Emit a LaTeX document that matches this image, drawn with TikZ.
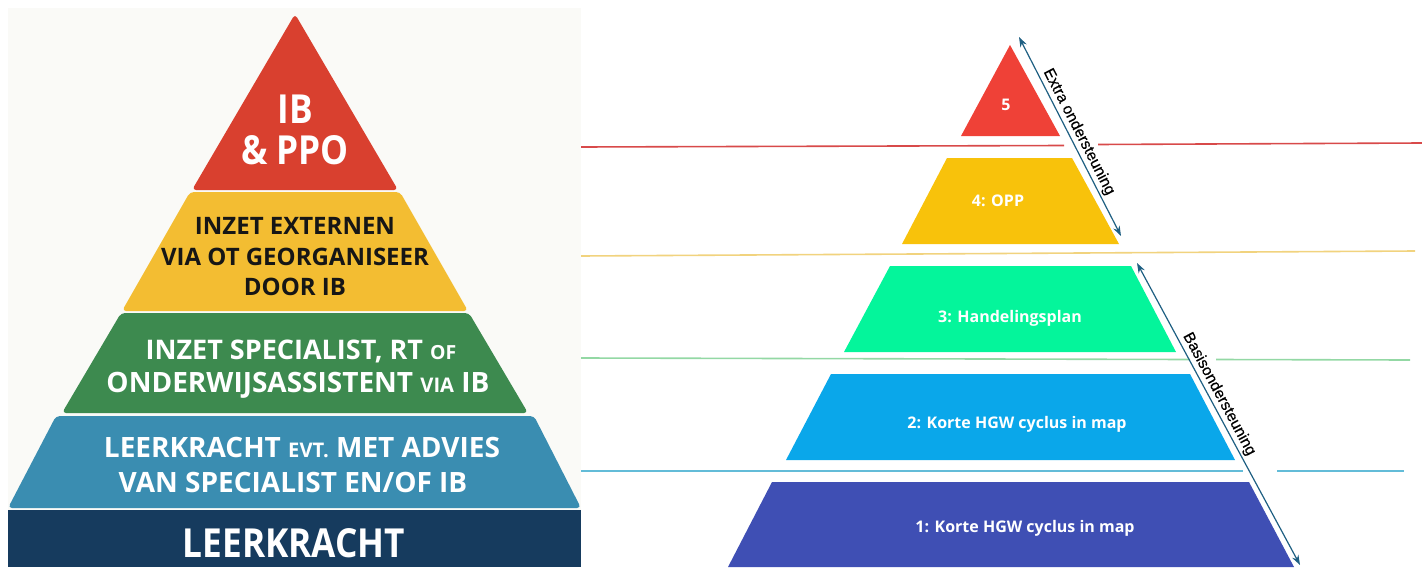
\documentclass[tikz,border=0pt]{standalone}
\usepackage{fontspec}
\setmainfont{Open Sans}
\newfontfamily\condfont[FakeStretch=0.88]{Open Sans}
\newfontfamily\spanfont[FakeBold=0.4]{Liberation Sans}
\usepackage{tikz}
\usetikzlibrary{arrows.meta}

\definecolor{lPanel}{HTML}{FAFAF7}
\definecolor{lRed}{HTML}{D9402F}
\definecolor{lYellow}{HTML}{F3BD32}
\definecolor{lGreen}{HTML}{3D8A4F}
\definecolor{lBlue}{HTML}{3A8DB1}
\definecolor{lNavy}{HTML}{163B5E}
\definecolor{lInk}{HTML}{161616}
\definecolor{rRed}{HTML}{EF4137}
\definecolor{rYellow}{HTML}{F8C20B}
\definecolor{rGreen}{HTML}{04F59B}
\definecolor{rBlue}{HTML}{0AA7EA}
\definecolor{rIndigo}{HTML}{3F4FB4}
\definecolor{spanBlue}{HTML}{1E5F82}
\definecolor{lineRed}{HTML}{D84A4A}
\definecolor{lineYellow}{HTML}{F1D37E}
\definecolor{lineGreen}{HTML}{93D8A4}
\definecolor{lineBlue}{HTML}{63BCD8}

\newcommand{\sml}[1]{\scalebox{0.72}{#1}}

\tikzset{
  layer/.style={rounded corners=2pt},
  bigtext/.style={anchor=base, inner sep=0pt, text=white, font=\condfont\bfseries\fontsize{#1}{#1}\selectfont},
  midtext/.style={anchor=base, inner sep=0pt, text=white, font=\bfseries\fontsize{#1}{#1}\selectfont},
  inktext/.style={midtext=#1, text=lInk},
  steptext/.style={anchor=base, inner sep=0pt, text=white, font=\bfseries\fontsize{8}{8}\selectfont},
  sepline/.style={line width=0.8pt},
  span/.style={spanBlue, line width=0.6pt, {Stealth[length=5pt,width=3.5pt]}-{Stealth[length=5pt,width=3.5pt]}},
  spanlabel/.style={text=black, inner sep=1pt, font=\spanfont\fontsize{7.8}{7.8}\selectfont},
}

\begin{document}
\begin{tikzpicture}[x=0.5pt, y=-0.5pt]
  \useasboundingbox (0,0) rectangle (1422,567);

  % left pyramid
  \fill[lPanel] (8,8) rectangle (581,567);
  \fill[lRed, layer] (295,14) -- (398,190) -- (192,190) -- cycle;
  \fill[lYellow, layer] (190,192) -- (400,192) -- (468,311) -- (122,311) -- cycle;
  \fill[lGreen, layer] (121,313) -- (469,313) -- (528,413) -- (62,413) -- cycle;
  \fill[lBlue, layer] (56,416) -- (534,416) -- (581,508) -- (8,508) -- cycle;
  \fill[lNavy] (8,510) rectangle (581,567);

  \node[bigtext=20] (ibA) at (295,123) {IB};
  \node[bigtext=20] (ibB) at (295,164) {\& PPO};
  \node[inktext=12] (extA) at (295,234) {INZET EXTERNEN};
  \node[inktext=12] (extB) at (295,265) {VIA OT GEORGANISEER};
  \node[inktext=12] (extC) at (295,295) {DOOR IB};
  \node[midtext=13.5] (specA) at (301,359) {INZET SPECIALIST, RT \sml{OF}};
  \node[midtext=14] (specB) at (298,392) {ONDERWIJSASSISTENT \sml{VIA} IB};
  \node[midtext=14] (advA) at (302,457) {LEERKRACHT \sml{EVT.} MET ADVIES};
  \node[midtext=14] (advB) at (293,492) {VAN SPECIALIST EN/OF IB};
  \node[bigtext=20] (lk) at (294,557) {LEERKRACHT};

  % right pyramid
  \draw[sepline, lineRed] (581,147) -- (1064,145.5) (1098,144.5) -- (1422,143);
  \draw[sepline, lineYellow] (581,256) -- (1415,251);
  \draw[sepline, lineGreen] (581,358) -- (1190,359.5) (1216,359.5) -- (1410,360);
  \draw[sepline, lineBlue] (581,471) -- (1243,471) (1277,471) -- (1404,471);

  \fill[rRed] (1010,45) -- (1060,136) -- (961,136) -- cycle;
  \fill[rYellow] (947,158) -- (1072,158) -- (1119,244) -- (902,244) -- cycle;
  \fill[rGreen] (890,266) -- (1131,266) -- (1176,352) -- (844,352) -- cycle;
  \fill[rBlue] (831,374) -- (1190,374) -- (1235,460) -- (786,460) -- cycle;
  \fill[rIndigo] (772,482) -- (1249,482) -- (1294,567) -- (728,567) -- cycle;

  \node[steptext] (s5) at (1006,111) {5};
  \node[steptext] (s4) at (998,206) {4: OPP};
  \node[steptext] (s3) at (1010,322) {3: Handelingsplan};
  \node[steptext] (s2) at (1017,428) {2: Korte HGW cyclus in map};
  \node[steptext] (s1) at (1025,532) {1: Korte HGW cyclus in map};

  \coordinate (extraTop) at (1019,37);
  \coordinate (extraBot) at (1121,236);
  \coordinate (basisTop) at (1137,263);
  \coordinate (basisBot) at (1300,565);
  \draw[span] (extraTop) -- node[midway, sloped, above, spanlabel] (extraLabel) {Extra ondersteuning} (extraBot);
  \draw[span] (basisTop) -- node[pos=0.45, sloped, above, spanlabel] (basisLabel) {Basisondersteuning} (basisBot);
\end{tikzpicture}
\end{document}
